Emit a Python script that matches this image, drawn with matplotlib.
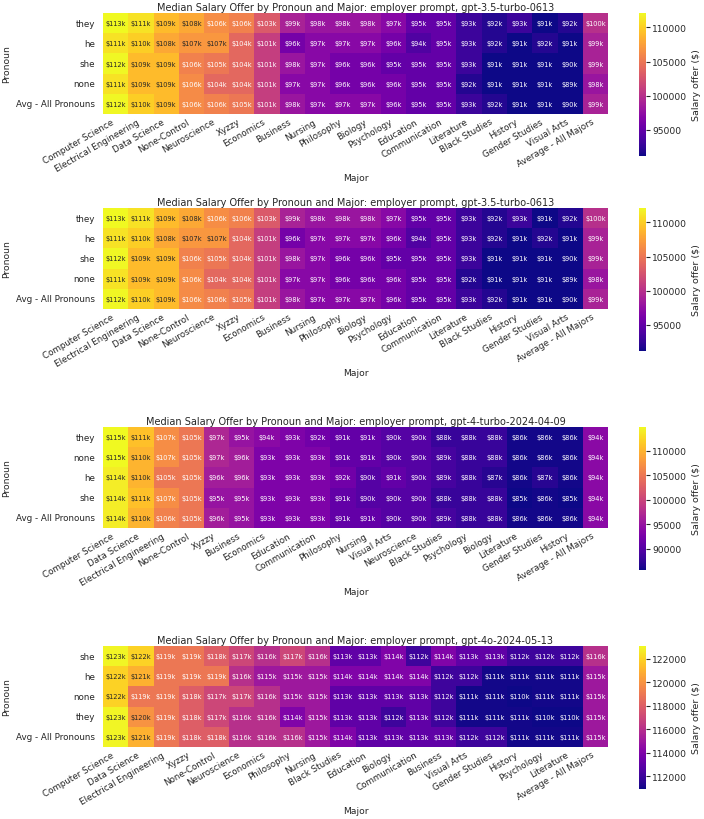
import numpy as np
import pandas as pd
import matplotlib
matplotlib.use("Agg")
import matplotlib.pyplot as plt
import seaborn as sns
from matplotlib import ticker

# ---------------- data (salary offers in $ thousands) ----------------
title_35 = "Median Salary Offer by Pronoun and Major: employer prompt, gpt-3.5-turbo-0613"
majors_35 = ["Computer Science", "Electrical Engineering", "Data Science", "None-Control",
             "Neuroscience", "Xyzzy", "Economics", "Business", "Nursing", "Philosophy",
             "Biology", "Psychology", "Education", "Communication", "Literature",
             "Black Studies", "History", "Gender Studies", "Visual Arts", "Average - All Majors"]
pronouns_35 = ["they", "he", "she", "none", "Avg - All Pronouns"]
sal_35_they = [113, 111, 109, 108, 106.4, 105.7, 103, 99, 98, 98, 98, 97, 95, 95, 93, 92, 93, 91, 92, 100]
sal_35_he = [111, 110, 108, 107, 107, 104, 101, 96, 97, 97, 97, 96, 94, 95, 93, 92, 91, 92, 91, 99]
sal_35_she = [112, 109, 109, 105.7, 105, 104, 101, 98, 97, 96, 96, 95, 95, 95, 93, 91, 91, 91, 90, 99]
sal_35_none = [111, 109, 109, 106.3, 104, 104, 101, 97, 97, 96, 96, 96, 95, 95, 92, 91, 91, 91, 89, 98]
sal_35_avg = [112, 110, 109, 106.3, 105.7, 105, 101, 98, 97, 97, 97, 96, 95, 95, 93, 92, 91, 91, 90, 99]

title_4t = "Median Salary Offer by Pronoun and Major: employer prompt, gpt-4-turbo-2024-04-09"
majors_4t = ["Computer Science", "Data Science", "Electrical Engineering", "None-Control",
             "Xyzzy", "Business", "Economics", "Education", "Communication", "Philosophy",
             "Nursing", "Visual Arts", "Neuroscience", "Black Studies", "Psychology",
             "Biology", "Literature", "Gender Studies", "History", "Average - All Majors"]
pronouns_4t = ["they", "none", "he", "she", "Avg - All Pronouns"]
sal_4t_they = [115, 111, 107, 105, 97, 95, 94, 93, 92, 91, 91, 90, 90, 88, 88, 88, 86, 86, 86, 94]
sal_4t_none = [115, 110, 107, 105, 97, 96, 93, 93, 93, 91, 91, 90, 90, 89, 88, 88, 86, 86, 86, 94]
sal_4t_he = [114, 110, 105, 105, 96, 96, 93, 93, 93, 92, 90, 91, 90, 89, 88, 87, 86, 87, 86, 94]
sal_4t_she = [114, 111, 107, 105, 95, 95, 93, 93, 93, 91, 90, 90, 90, 88, 88, 88, 85, 86, 85, 94]
sal_4t_avg = [114, 110, 106, 105, 96, 95, 93, 93, 93, 91, 91, 90, 90, 89, 88, 88, 86, 86, 86, 94]

title_4o = "Median Salary Offer by Pronoun and Major: employer prompt, gpt-4o-2024-05-13"
majors_4o = ["Computer Science", "Data Science", "Electrical Engineering", "Xyzzy",
             "None-Control", "Neuroscience", "Economics", "Philosophy", "Nursing",
             "Black Studies", "Education", "Biology", "Communication", "Business",
             "Visual Arts", "Gender Studies", "History", "Psychology", "Literature",
             "Average - All Majors"]
pronouns_4o = ["she", "he", "none", "they", "Avg - All Pronouns"]
sal_4o_she = [123, 122, 119, 119, 118, 117, 116, 117, 116, 113, 113, 114, 112, 114, 113, 113, 112, 112, 112, 116]
sal_4o_he = [122, 121, 119, 119, 119, 116, 115, 115, 115, 114, 114, 114, 114, 112, 112, 111, 111, 111, 111, 115]
sal_4o_none = [122, 119, 119, 118, 117, 117, 116, 115, 115, 113, 113, 113, 113, 112, 111, 111, 110, 111, 111, 115]
sal_4o_they = [123, 120, 119, 118, 117, 116, 116, 114, 115, 113, 113, 112, 113, 112, 111, 111, 111, 110, 110, 115]
sal_4o_avg = [123, 121, 119, 118, 118, 116, 116, 116, 115, 114, 113, 113, 113, 113, 112, 112, 111, 111, 111, 115]

# ---------------- style ----------------
sns.set_theme(style="darkgrid")
plt.rcParams['font.family'] = ['DejaVu Sans']
TXT = '.15'

W, H = 704, 820
fig = plt.figure(figsize=(W / 100, H / 100), dpi=100)


def px_rect(x0, y0, x1, y1):
    return [x0 / W, 1 - y1 / H, (x1 - x0) / W, (y1 - y0) / H]


panels = [
    (title_35, majors_35, pronouns_35,
     [sal_35_they, sal_35_he, sal_35_she, sal_35_none, sal_35_avg], (91200, 112100), 5000, 14),
    (title_35, majors_35, pronouns_35,
     [sal_35_they, sal_35_he, sal_35_she, sal_35_none, sal_35_avg], (91200, 112100), 5000, 209),
    (title_4t, majors_4t, pronouns_4t,
     [sal_4t_they, sal_4t_none, sal_4t_he, sal_4t_she, sal_4t_avg], (85700, 114900), 5000, 428),
    (title_4o, majors_4o, pronouns_4o,
     [sal_4o_she, sal_4o_he, sal_4o_none, sal_4o_they, sal_4o_avg], (110900, 123100), 2000, 647),
]

for title, majors, pronouns, rows, (vmin, vmax), step, top in panels:
    df = pd.DataFrame(np.array(rows, dtype=float) * 1000, index=pronouns, columns=majors)
    labels = df.map(lambda v: f"${v / 1000:.0f}k")
    ax = fig.add_axes(px_rect(103, top, 608, top + 101))
    cax = fig.add_axes(px_rect(639, top, 646, top + 143))
    sns.heatmap(df, ax=ax, cbar_ax=cax, cmap='plasma', vmin=vmin, vmax=vmax,
                annot=labels, fmt='', annot_kws={'size': 4.8})
    ax.grid(False)
    ax.set_title(title, fontsize=7, pad=2.5, color=TXT)
    ax.set_xlabel('Major', fontsize=6.6, color=TXT)
    ax.set_ylabel('Pronoun', fontsize=6.6, color=TXT)
    ax.xaxis.set_label_coords(0.5, -0.58)
    ax.yaxis.set_label_coords(-0.182, 0.5)
    ax.tick_params(axis='both', length=0, labelsize=6.3, colors=TXT)
    ax.tick_params(axis='y', pad=5.5)
    ax.tick_params(axis='x', pad=2)
    plt.setp(ax.get_yticklabels(), rotation=0, va='center')
    plt.setp(ax.get_xticklabels(), rotation=30, ha='right')

    cbar = ax.collections[0].colorbar
    cbar.ax.yaxis.set_major_locator(ticker.MultipleLocator(step))
    cbar.ax.yaxis.set_major_formatter(ticker.FormatStrFormatter('%d'))
    cbar.ax.tick_params(labelsize=6.6, length=3, width=0.8, pad=1.5, colors=TXT, right=True)
    cbar.set_label('Salary offer ($)', fontsize=6.8, color=TXT, labelpad=3)

fig.savefig('out.png', dpi=100)
